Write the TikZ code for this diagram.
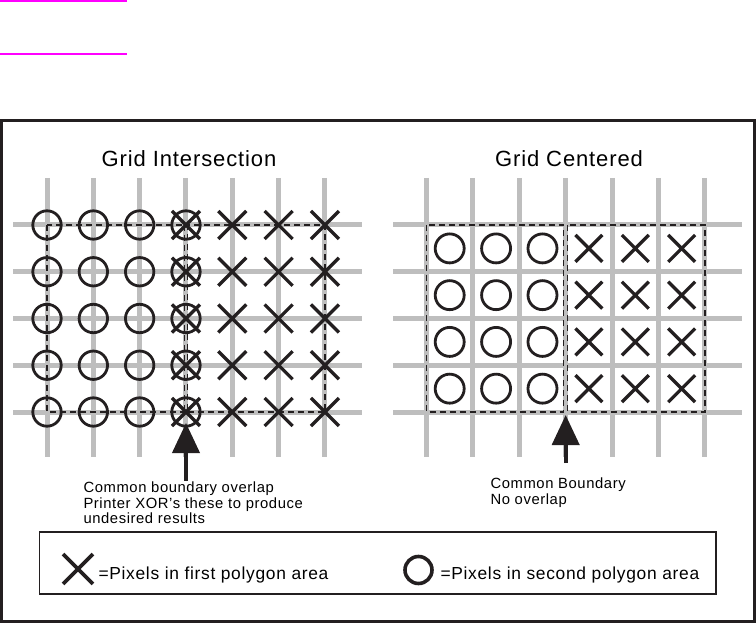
\documentclass[tikz,border=0pt]{standalone}
\usepackage{fontspec}
\setmainfont{Liberation Sans}[LetterSpace=4]
\usetikzlibrary{arrows.meta, positioning}
\definecolor{cgrid}{HTML}{BEBEBE}
\definecolor{cmark}{HTML}{FF00FF}
\definecolor{cink}{HTML}{231F20}
\tikzset{
  every picture/.style={line width=1pt},
  gridline/.style={draw=cgrid, line width=5pt},
  border/.style={draw=cink, dash pattern=on 6pt off 4pt, line width=1.3pt},
  ring/.style={draw=cink, line width=2.8pt},
  cross/.style={cink, line width=3.3pt},
  pointer/.style={-{Triangle[length=30pt, width=27pt]}, draw=cink, fill=cink, line width=4pt},
  title/.style={font=\fontsize{22}{26}\selectfont, inner sep=0pt},
  note/.style={font=\fontsize{14.8}{15.8}\selectfont, align=left, inner sep=0pt},
  key/.style={font=\fontsize{17.4}{20}\selectfont, inner sep=0pt},
  xpix/.pic={\draw (-14pt,-14pt) -- (14pt,14pt) (-14pt,14pt) -- (14pt,-14pt);},
}

\begin{document}
\begin{tikzpicture}[x=1pt, y=-1pt]
  \useasboundingbox (0,0) rectangle (756,623);
  % marks above the frame
  \draw[cmark, line width=2pt] (0,1) -- (127,1) (0,54.5) -- (127,54.5);
  \draw[cink, line width=2.5pt] (1.25,120.5) rectangle (754.5,621.5);

  % grid intersection
  \node[title] (intertitle) at (189,159) {Grid Intersection};
  \foreach \i in {0,...,6} \draw[gridline] (47+46.33*\i,178) -- (47+46.33*\i,457);
  \foreach \j in {0,...,4} \draw[gridline] (13,225+46.75*\j) -- (362,225+46.75*\j);
  \draw[border] (47,225) rectangle (187.5,412);
  \draw[border] (184.5,225) rectangle (325,412);
  \foreach \i in {0,...,3} \foreach \j in {0,...,4}
    \draw[ring] (47+46.33*\i,225+46.75*\j) circle[radius=14.2pt];
  \foreach \i in {3,...,6} \foreach \j in {0,...,4}
    \pic[cross] at (47+46.33*\i,225+46.75*\j) {xpix};

  % grid centered
  \node[title] (centretitle) at (569,159) {Grid Centered};
  \foreach \i in {0,...,6} \draw[gridline] (426.5+46.4*\i,178) -- (426.5+46.4*\i,457);
  \foreach \j in {0,...,4} \draw[gridline] (393,225+46.75*\j) -- (742,225+46.75*\j);
  \draw[border] (426.5,225) rectangle (563.7,412);
  \draw[border] (567.7,225) rectangle (704.9,412);
  \foreach \i in {0,...,2} \foreach \j in {0,...,3}
    \draw[ring] (426.5+46.4*\i+23.2,225+46.75*\j+23.4) circle[radius=14.5pt];
  \foreach \i in {3,...,5} \foreach \j in {0,...,3}
    \pic[cross, scale=0.96] at (426.5+46.4*\i+23.2,225+46.75*\j+23.4) {xpix};

  % notes and pointers
  \node[note, anchor=north west] (overlapnote) at (83,481) {Common boundary overlap\\Printer XOR's these to produce\\undesired results};
  \coordinate (overlaptip) at (186,423);
  \draw[pointer] (overlaptip |- overlapnote.north) -- (overlaptip);
  \node[note, anchor=north west] (centrenote) at (490,477) {Common Boundary\\No overlap};
  \coordinate (centretip) at (565.7,415);
  \coordinate (centrefoot) at (565.7,463);
  \draw[pointer] (centrefoot) -- (centretip);

  % legend
  \draw[cink, line width=1.2pt] (39.5,532) rectangle (716,594);
  \pic[cross, line width=3.6pt, scale=1.07] at (78,569) {xpix};
  \node[key, anchor=base west] (firstkey) at (98,579) {=Pixels in first polygon area};
  \draw[ring, line width=3.6pt] (418.5,570) circle[radius=13.5pt];
  \node[key, anchor=base west] (secondkey) at (440,579) {=Pixels in second polygon area};
\end{tikzpicture}
\end{document}
